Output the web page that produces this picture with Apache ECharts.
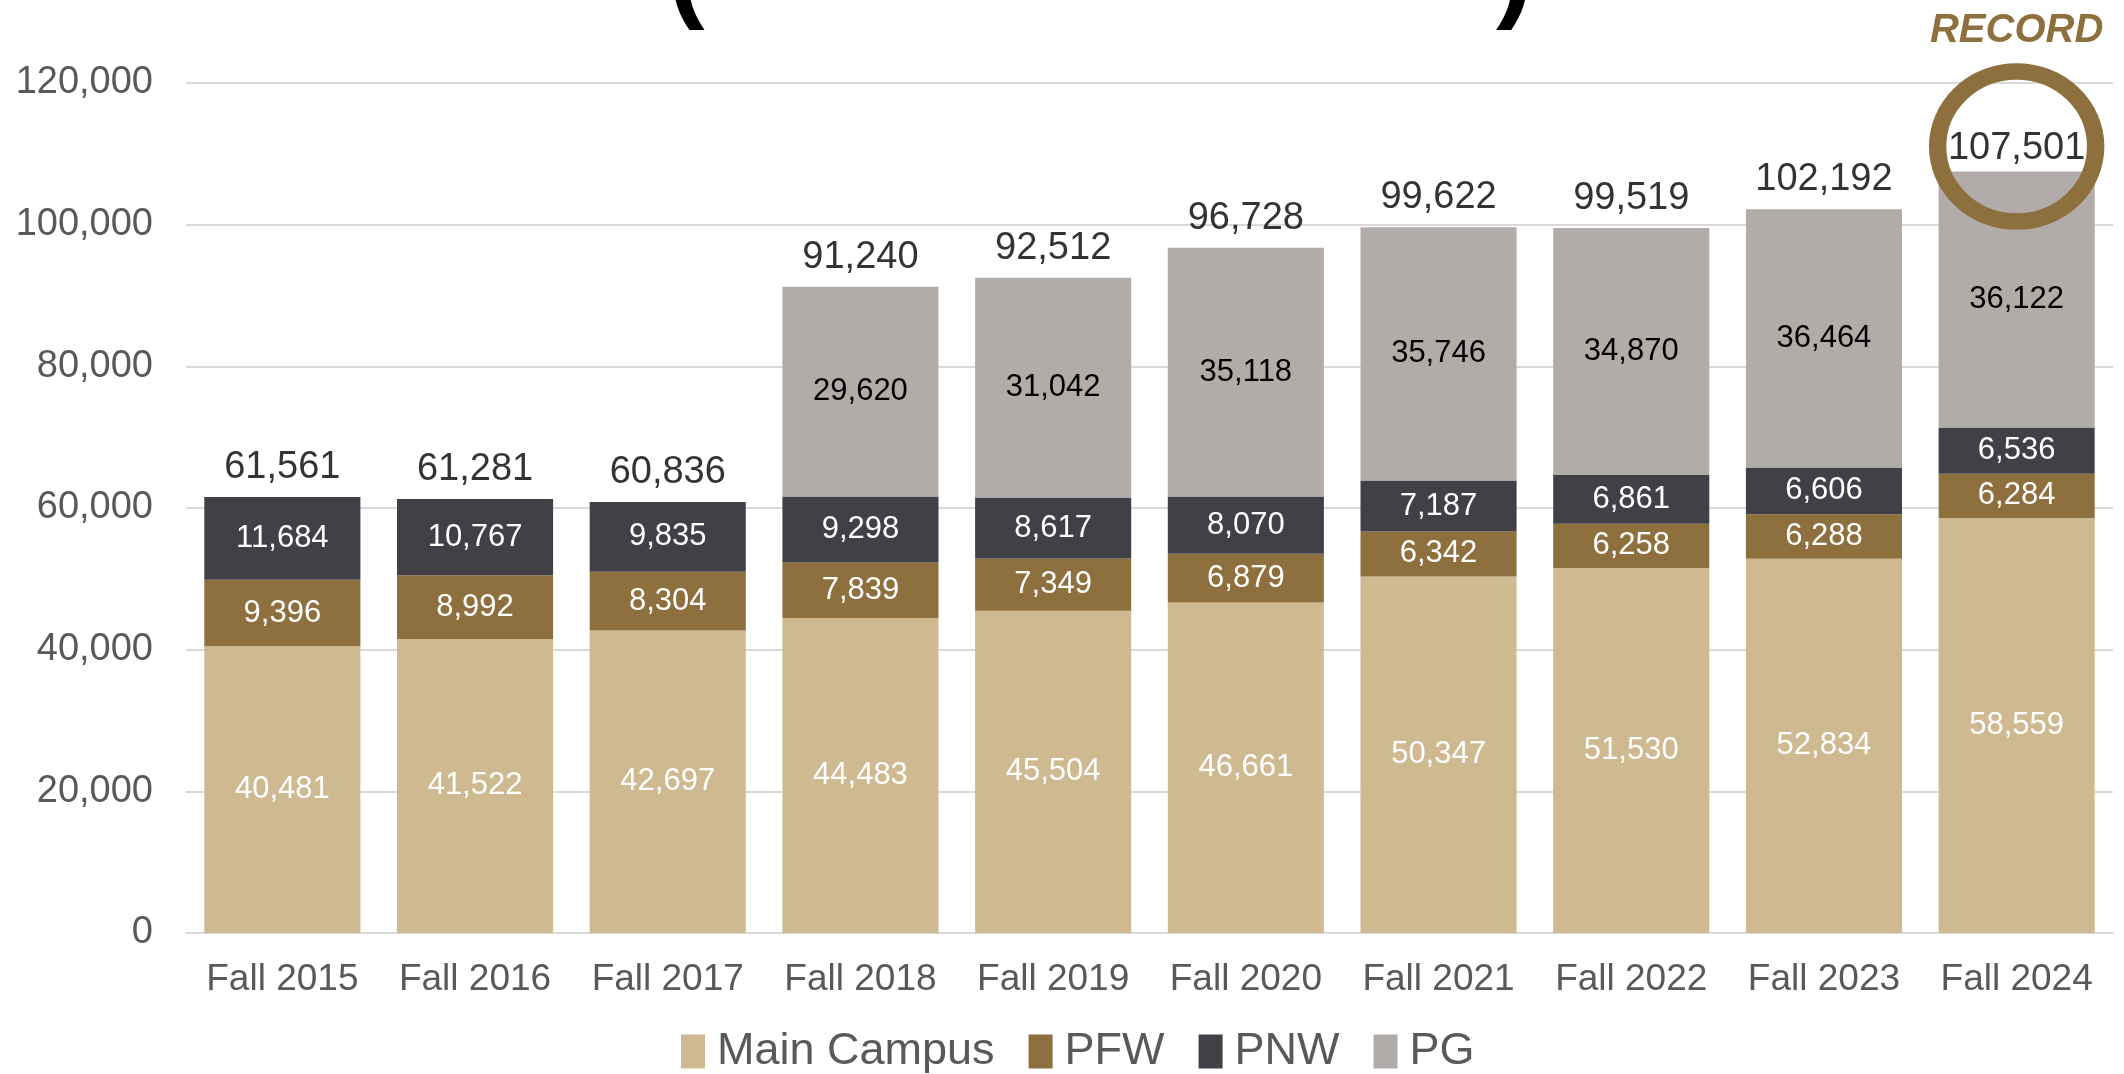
<!DOCTYPE html>
<html>
<head>
<meta charset="utf-8">
<title>Enrollment</title>
<script src="https://cdn.jsdelivr.net/npm/echarts@6/dist/echarts.min.js"></script>
<style>
  html, body { margin: 0; padding: 0; background: #fff; }
  #main { width: 2124px; height: 1074px; }
</style>
</head>
<body>
<div id="main"></div>
<script>
// categories and values
var years = ['Fall 2015', 'Fall 2016', 'Fall 2017', 'Fall 2018', 'Fall 2019',
             'Fall 2020', 'Fall 2021', 'Fall 2022', 'Fall 2023', 'Fall 2024'];
var mainCampus = [40481, 41522, 42697, 44483, 45504, 46661, 50347, 51530, 52834, 58559];
var pfw = [9396, 8992, 8304, 7839, 7349, 6879, 6342, 6258, 6288, 6284];
var pnw = [11684, 10767, 9835, 9298, 8617, 8070, 7187, 6861, 6606, 6536];
var pg = [0, 0, 0, 29620, 31042, 35118, 35746, 34870, 36464, 36122];
var totals = [61561, 61281, 60836, 91240, 92512, 96728, 99622, 99519, 102192, 107501];
var yTicks = [0, 20000, 40000, 60000, 80000, 100000, 120000];

var plain = '"Liberation Sans", Arial, sans-serif';
var gold = '#8E6F3E';

function fmt(v) {
    return v.toLocaleString('en-US');
}

// 初始化echarts实例
var myChart = echarts.init(document.getElementById('main'));

function segLabel(color) {
    return {
        show: true,
        position: 'inside',
        color: color,
        fontFamily: plain,
        fontSize: 31,
        formatter: function (p) { return p.value ? fmt(p.value) : ''; }
    };
}

var totalData = totals.map(function (v, i) {
    if (i == totals.length - 1) {
        return { value: v, label: { distance: 4 } };
    }
    return v;
});

var option = {
    animation: false,
    backgroundColor: '#fff',
    grid: { left: 186, right: 11, top: 83, bottom: 141, outerBoundsMode: 'none' },
    legend: {
        data: ['Main Campus', 'PFW', 'PNW', 'PG'],
        bottom: 0,
        padding: 0,
        left: 681,
        itemWidth: 24,
        itemHeight: 34,
        itemGap: 34,
        icon: 'rect',
        textStyle: { color: '#595959', fontSize: 45, fontFamily: plain, padding: [0, 0, 0, 7] }
    },
    xAxis: {
        type: 'category',
        data: years,
        axisLine: { lineStyle: { color: '#D9D9D9', width: 2 } },
        axisTick: { show: false },
        axisLabel: { color: '#595959', fontSize: 37, fontFamily: plain, margin: 28, interval: 0 }
    },
    yAxis: {
        type: 'value',
        min: yTicks[0],
        max: yTicks[yTicks.length - 1],
        interval: 20000,
        axisLine: { show: false },
        axisTick: { show: false },
        splitLine: { lineStyle: { color: '#D9D9D9', width: 2 } },
        axisLabel: { color: '#595959', fontSize: 38, fontFamily: plain, margin: 33, formatter: fmt }
    },
    series: [
        {
            name: 'Main Campus', type: 'bar', stack: 'all', barCategoryGap: '19%',
            itemStyle: { color: '#CFB991' }, label: segLabel('#fff'), data: mainCampus
        },
        {
            name: 'PFW', type: 'bar', stack: 'all',
            itemStyle: { color: gold }, label: segLabel('#fff'), data: pfw
        },
        {
            name: 'PNW', type: 'bar', stack: 'all',
            itemStyle: { color: '#404046' }, label: segLabel('#fff'), data: pnw
        },
        {
            name: 'PG', type: 'bar', stack: 'all',
            itemStyle: { color: '#B1ACA9' }, label: segLabel('#000'), data: pg
        },
        {
            name: 'Total', type: 'scatter',
            symbolSize: 1,
            itemStyle: { color: 'transparent' },
            label: {
                show: true, position: 'top', distance: 10,
                color: '#000', fontFamily: plain, fontSize: 38,
                formatter: function (p) { return fmt(p.value); }
            },
            data: totalData,
            markPoint: {
                symbol: 'circle',
                symbolSize: [158, 150],
                symbolOffset: [0, -25],
                itemStyle: { color: 'transparent', borderColor: gold, borderWidth: 17 },
                label: {
                    show: true, position: 'top', distance: 12,
                    formatter: 'RECORD',
                    color: gold, fontStyle: 'italic', fontWeight: 'bold', fontSize: 40, fontFamily: plain
                },
                data: [{ coord: [years.length - 1, totals[totals.length - 1]] }]
            }
        }
    ],
    graphic: [
        { type: 'text', left: 668, top: -78, style: { text: '(', fontSize: 110, fontWeight: 'bold', fill: '#000', fontFamily: plain } },
        { type: 'text', left: 1496, top: -78, style: { text: ')', fontSize: 110, fontWeight: 'bold', fill: '#000', fontFamily: plain } }
    ]
};

// 使用刚指定的配置项和数据显示图表。
myChart.setOption(option);
</script>
</body>
</html>
